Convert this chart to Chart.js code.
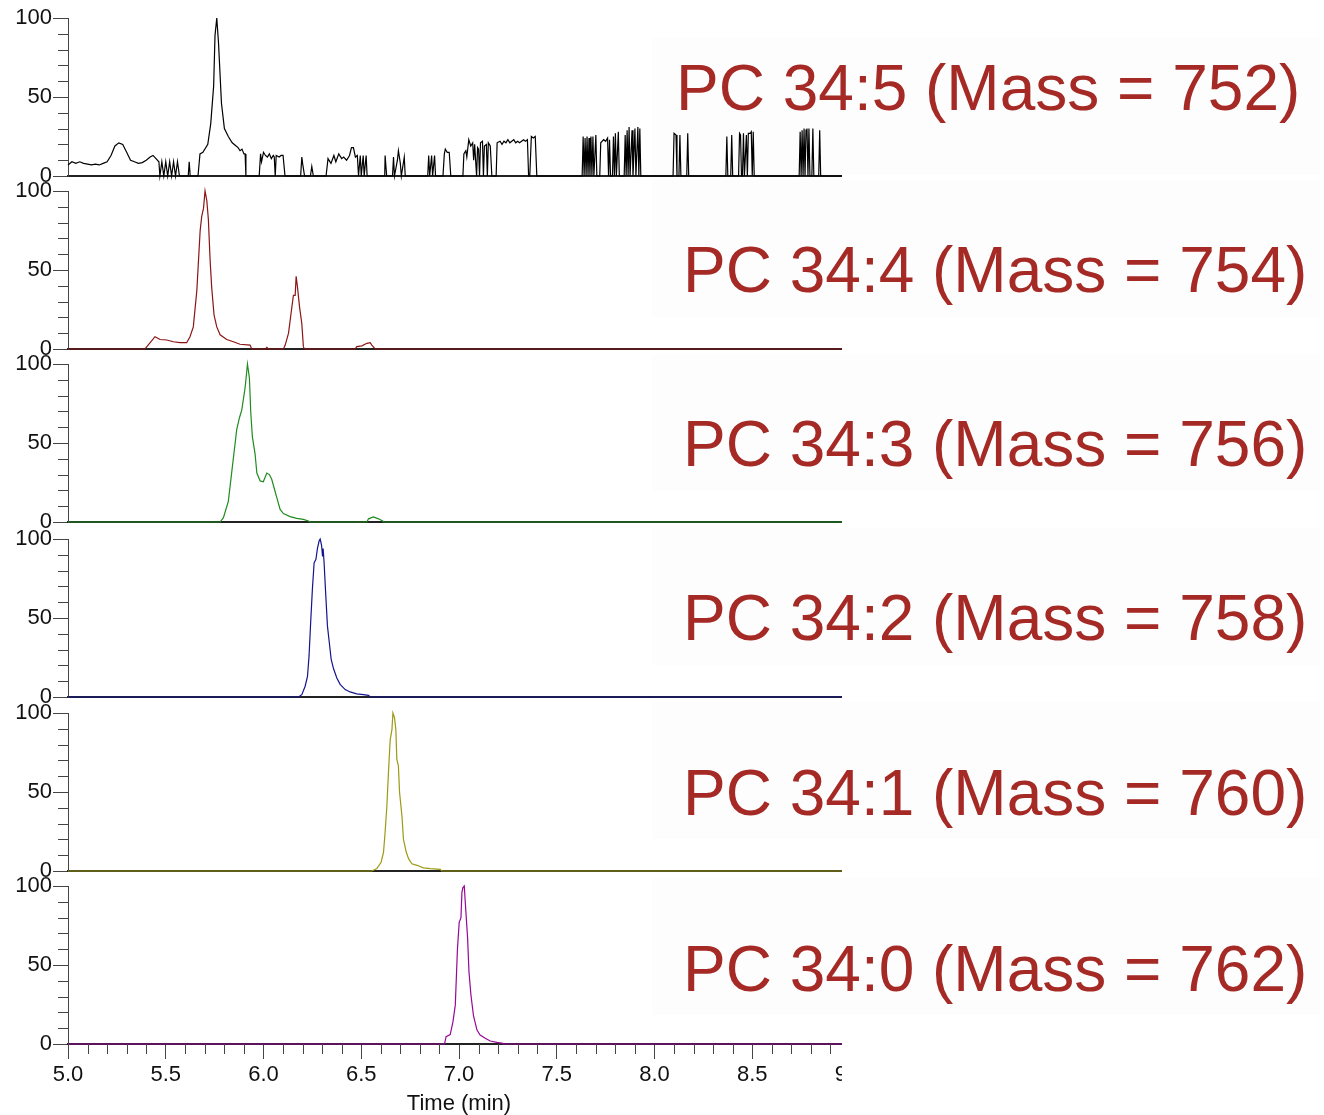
<!DOCTYPE html>
<html>
<head>
<meta charset="utf-8">
<title>PC 34 chromatograms</title>
<script src="https://cdn.jsdelivr.net/npm/chart.js@4.4.1/dist/chart.umd.min.js"></script>
<style>
  html, body { margin: 0; padding: 0; background: #fff; }
  #page { position: relative; width: 1324px; height: 1115px; overflow: hidden; background: #fff; }
  .panel { position: absolute; left: 0; width: 842px; overflow: hidden; }
  .panel canvas { position: absolute; left: 0; top: 0; }
  .tag { position: absolute; left: 652px; width: 668px; height: 137px; background: #fdfdfd; }
  .tag span {
    position: absolute; white-space: nowrap;
    font-family: 'Liberation Sans', Arial, sans-serif;
    font-size: 64px; line-height: 64px; color: #a52a25;
  }
</style>
</head>
<body>
<div id="page"></div>
<script>
(function () {
    'use strict';

    // axis range and tick labels
    var xMin = 5.0;
    var xMax = 9.0;
    var xTickLabels = ['5.0', '5.5', '6.0', '6.5', '7.0', '7.5', '8.0', '8.5', '9.0'];
    var yTickLabels = [0, 50, 100];

    // one trace per species, [time (min), relative intensity (%)]
    var species = ['PC 34:5', 'PC 34:4', 'PC 34:3', 'PC 34:2', 'PC 34:1', 'PC 34:0'];
    var masses = [752, 754, 756, 758, 760, 762];

    var pc345 = [
        [5.00, 7], [5.02, 9], [5.04, 8], [5.06, 9], [5.08, 8], [5.10, 7.5], [5.12, 7], [5.14, 7.5],
        [5.16, 7], [5.18, 8], [5.20, 9], [5.22, 13], [5.24, 19], [5.26, 21], [5.28, 20], [5.30, 15],
        [5.32, 10], [5.34, 9], [5.36, 8], [5.38, 8.5], [5.40, 10], [5.42, 12], [5.435, 13], [5.45, 11],
        [5.465, 9], [5.47, 0], [5.48, 9], [5.49, 0], [5.50, 9], [5.51, 0], [5.52, 9], [5.53, 0],
        [5.54, 9], [5.55, 0], [5.56, 9], [5.57, 0], [5.615, 0], [5.62, 9], [5.625, 0], [5.665, 0],
        [5.675, 14], [5.69, 15], [5.715, 20], [5.73, 33], [5.745, 57], [5.752, 89], [5.761, 100],
        [5.77, 84], [5.785, 46], [5.80, 30], [5.82, 25], [5.84, 21], [5.86, 19], [5.87, 18],
        [5.88, 16], [5.89, 17], [5.90, 14], [5.906, 14], [5.91, 0],
        [5.978, 0], [5.985, 14], [5.99, 9], [6.00, 15], [6.01, 13], [6.02, 12], [6.03, 14], [6.04, 11],
        [6.05, 13], [6.055, 12], [6.06, 0], [6.065, 13], [6.08, 12], [6.09, 13], [6.10, 13], [6.11, 0],
        [6.19, 0], [6.196, 12], [6.20, 8], [6.21, 0], [6.24, 0], [6.247, 6], [6.255, 0],
        [6.32, 0], [6.33, 11], [6.345, 8], [6.36, 13], [6.37, 9], [6.385, 14], [6.40, 11], [6.41, 12],
        [6.425, 10], [6.44, 13], [6.45, 18], [6.46, 18], [6.47, 12], [6.48, 13], [6.486, 0],
        [6.495, 13], [6.50, 0], [6.51, 13], [6.515, 0], [6.525, 13], [6.53, 0],
        [6.62, 0], [6.622, 13], [6.63, 0], [6.66, 0], [6.665, 12], [6.67, 0], [6.685, 10], [6.69, 16],
        [6.70, 8], [6.705, 0], [6.72, 12], [6.725, 0],
        [6.84, 0], [6.845, 13], [6.85, 0], [6.86, 13], [6.865, 0], [6.875, 13], [6.88, 0],
        [6.918, 0], [6.925, 14], [6.93, 17], [6.94, 15], [6.95, 15], [6.958, 0],
        [7.02, 0], [7.025, 14], [7.035, 16], [7.04, 12], [7.05, 23], [7.06, 19], [7.07, 21], [7.075, 10],
        [7.08, 20], [7.09, 0], [7.095, 18], [7.10, 17], [7.105, 0], [7.11, 21], [7.12, 22], [7.125, 0],
        [7.13, 19], [7.14, 20], [7.145, 0], [7.15, 21], [7.16, 19], [7.168, 0],
        [7.19, 0], [7.195, 21], [7.21, 22], [7.22, 20], [7.23, 22], [7.24, 21], [7.25, 23], [7.26, 21],
        [7.27, 22], [7.28, 23], [7.29, 21], [7.30, 22], [7.31, 21], [7.32, 22], [7.33, 23], [7.34, 22],
        [7.35, 23], [7.356, 0], [7.362, 0], [7.37, 25], [7.38, 24], [7.39, 25], [7.398, 0],
        [7.63, 0], [7.635, 25], [7.64, 0], [7.645, 24], [7.65, 0], [7.655, 25], [7.66, 0], [7.665, 24],
        [7.67, 0], [7.675, 25], [7.68, 0], [7.685, 25], [7.69, 0], [7.70, 26], [7.705, 0],
        [7.72, 0], [7.725, 21], [7.74, 23], [7.75, 22], [7.76, 24], [7.765, 0], [7.77, 23], [7.775, 0],
        [7.785, 0], [7.79, 25], [7.795, 0], [7.80, 27], [7.805, 0], [7.815, 28], [7.82, 0],
        [7.845, 0], [7.85, 26], [7.855, 0], [7.86, 29], [7.865, 0], [7.87, 31], [7.875, 0], [7.885, 29],
        [7.89, 0], [7.90, 30], [7.905, 0], [7.915, 31], [7.92, 0], [7.925, 30], [7.93, 0],
        [8.095, 0], [8.10, 27], [8.11, 26], [8.115, 0], [8.125, 0], [8.13, 26], [8.135, 0], [8.165, 0],
        [8.17, 27], [8.175, 0],
        [8.365, 0], [8.37, 25], [8.375, 0], [8.39, 0], [8.395, 26], [8.40, 0], [8.43, 0], [8.435, 27],
        [8.44, 26], [8.445, 0], [8.45, 0], [8.455, 27], [8.46, 0], [8.47, 26], [8.475, 0], [8.48, 27],
        [8.49, 27], [8.495, 28], [8.50, 0], [8.505, 28], [8.51, 0],
        [8.74, 0], [8.745, 28], [8.75, 0], [8.755, 29], [8.76, 0], [8.765, 30], [8.77, 0], [8.775, 29],
        [8.78, 30], [8.785, 0], [8.79, 30], [8.795, 0], [8.805, 0], [8.81, 30], [8.815, 0], [8.84, 0],
        [8.845, 29], [8.85, 0], [9.00, 0]
    ];

    var pc344 = [
        [5.00, 0], [5.394, 0], [5.445, 7.8], [5.471, 6], [5.505, 5.7], [5.539, 4.6], [5.573, 4],
        [5.607, 4], [5.624, 7.8], [5.641, 14], [5.659, 37], [5.676, 75], [5.684, 84], [5.693, 89],
        [5.701, 100], [5.710, 94], [5.718, 82], [5.727, 56], [5.735, 39], [5.747, 21.5], [5.761, 14],
        [5.778, 9], [5.812, 6], [5.846, 4.6], [5.880, 3], [5.931, 2.5], [5.940, 0], [6.010, 0],
        [6.017, 1], [6.025, 0], [6.102, 0], [6.111, 2.5], [6.128, 10], [6.141, 22.6], [6.153, 34],
        [6.162, 34], [6.167, 46], [6.174, 39], [6.184, 27], [6.196, 16], [6.204, 1.5], [6.209, 0],
        [6.469, 0], [6.477, 1.5], [6.503, 2], [6.529, 3.6], [6.546, 4], [6.554, 2.5], [6.571, 0],
        [9.00, 0]
    ];

    var pc343 = [
        [5.00, 0], [5.778, 0], [5.795, 2.7], [5.820, 13], [5.838, 32], [5.855, 50], [5.863, 58.5],
        [5.877, 66], [5.889, 71], [5.906, 85], [5.918, 100], [5.928, 91], [5.935, 69], [5.943, 54],
        [5.957, 43], [5.966, 31], [5.983, 26], [5.999, 25.5], [6.017, 31], [6.030, 30], [6.042, 27],
        [6.054, 21.7], [6.068, 15.4], [6.085, 8], [6.102, 5.3], [6.136, 3.4], [6.170, 2.3],
        [6.204, 1.7], [6.230, 0.6], [6.238, 0], [6.529, 0], [6.537, 2], [6.562, 3.2], [6.588, 2],
        [6.610, 0.6], [6.614, 0], [9.00, 0]
    ];

    var pc342 = [
        [5.00, 0], [6.179, 0], [6.196, 1.5], [6.213, 6.8], [6.225, 13], [6.233, 26], [6.242, 49],
        [6.250, 68], [6.259, 85], [6.268, 87], [6.276, 94], [6.285, 99], [6.290, 100], [6.297, 96],
        [6.302, 89], [6.305, 94], [6.310, 85], [6.317, 68], [6.327, 45], [6.337, 34], [6.346, 24],
        [6.358, 18], [6.375, 12], [6.392, 8], [6.418, 4.7], [6.443, 3.2], [6.477, 2], [6.511, 1.5],
        [6.537, 1], [6.546, 0], [9.00, 0]
    ];

    var pc341 = [
        [5.00, 0], [6.554, 0], [6.580, 1.5], [6.602, 5.7], [6.614, 12], [6.622, 24.5], [6.631, 41],
        [6.639, 62], [6.648, 83], [6.657, 89.5], [6.662, 100], [6.670, 97], [6.677, 89.5],
        [6.682, 70.6], [6.690, 66.5], [6.696, 49.7], [6.708, 35], [6.716, 20], [6.730, 12],
        [6.742, 7.8], [6.759, 4.6], [6.785, 3.6], [6.818, 2], [6.853, 1.5], [6.904, 1], [6.912, 0],
        [9.00, 0]
    ];

    var pc340 = [
        [5.00, 0], [6.926, 0], [6.934, 4.6], [6.955, 6], [6.969, 14], [6.981, 24.6], [6.992, 60],
        [7.001, 77], [7.010, 80], [7.015, 96], [7.020, 99], [7.027, 100], [7.033, 88], [7.044, 67],
        [7.051, 45.7], [7.061, 31], [7.074, 18], [7.092, 8.8], [7.108, 5.7], [7.134, 3.6],
        [7.160, 1.9], [7.194, 1], [7.225, 0.4], [7.231, 0], [9.00, 0]
    ];

    var traces = [pc345, pc344, pc343, pc342, pc341, pc340];

    // look
    var lineColors = ['#000000', '#8b1414', '#1e8c1e', '#14148c', '#9c9a14', '#960896'];
    var plotTops = [18, 191, 364, 539, 713, 886];
    var plotHeight = 158;
    var padTop = 15;
    var tagTops = [38, 180, 354, 528, 702, 878];
    var tagText = [[24, 18], [31, 58], [31, 58], [31, 58], [31, 59], [31, 59]];

    Chart.defaults.font.family = "'Liberation Sans', Arial, sans-serif";
    Chart.defaults.font.size = 22;
    Chart.defaults.color = '#111';

    function isMajorX(v) { return xTickLabels.indexOf(v.toFixed(1)) >= 0 && Math.abs(v * 10 - Math.round(v * 10)) < 1e-6; }
    function isMajorY(v) { return yTickLabels.indexOf(Math.round(v)) >= 0; }

    // shorter unlabelled ticks between the labelled ones
    var minorTicks = {
        id: 'minorTicks',
        afterDraw: function (chart, args, opts) {
            var ctx = chart.ctx;
            ctx.save();
            ctx.strokeStyle = opts.color;
            ctx.lineWidth = 1;
            ctx.beginPath();
            var ys = chart.scales.y;
            ys.ticks.forEach(function (t) {
                if (isMajorY(t.value)) return;
                var py = Math.round(ys.getPixelForValue(t.value)) + 0.5;
                ctx.moveTo(ys.right - opts.len, py);
                ctx.lineTo(ys.right, py);
            });
            if (opts.x) {
                var xs = chart.scales.x;
                xs.ticks.forEach(function (t) {
                    if (isMajorX(t.value)) return;
                    var px = Math.round(xs.getPixelForValue(t.value)) + 0.5;
                    ctx.moveTo(px, xs.top);
                    ctx.lineTo(px, xs.top + opts.len);
                });
            }
            ctx.stroke();
            ctx.restore();
        }
    };

    var page = document.getElementById('page');

    // labels sit behind the traces
    species.forEach(function (name, i) {
        var tag = document.createElement('div');
        tag.className = 'tag';
        tag.style.top = tagTops[i] + 'px';
        var span = document.createElement('span');
        span.style.left = tagText[i][0] + 'px';
        span.style.top = tagText[i][1] + 'px';
        span.textContent = name + ' (Mass = ' + masses[i] + ')';
        tag.appendChild(span);
        page.appendChild(tag);
    });

    traces.forEach(function (trace, i) {
        var last = i === traces.length - 1;
        var axisH = last ? 73 : 0;
        var h = padTop + plotHeight + (last ? axisH : padTop);

        var box = document.createElement('div');
        box.className = 'panel';
        box.style.top = (plotTops[i] - padTop) + 'px';
        box.style.height = h + 'px';
        var canvas = document.createElement('canvas');
        canvas.width = 880;
        canvas.height = h;
        canvas.style.width = '880px';
        canvas.style.height = h + 'px';
        box.appendChild(canvas);
        page.appendChild(box);

        new Chart(canvas.getContext('2d'), {
            type: 'line',
            data: {
                datasets: [{
                    data: trace.map(function (p) { return { x: p[0], y: p[1] }; }),
                    borderColor: lineColors[i],
                    borderWidth: 1.2,
                    pointRadius: 0,
                    tension: 0,
                    fill: false,
                    clip: false
                }]
            },
            options: {
                responsive: false,
                animation: false,
                devicePixelRatio: 1,
                events: [],
                layout: { padding: { top: padTop, right: 30, bottom: last ? 0 : padTop, left: 0 } },
                plugins: {
                    legend: { display: false },
                    tooltip: { enabled: false },
                    minorTicks: { color: '#444', len: 10, x: last }
                },
                scales: {
                    x: {
                        type: 'linear',
                        min: xMin,
                        max: xMax,
                        afterFit: function (s) { s.height = axisH; },
                        border: { display: true, color: '#222', width: 2 },
                        grid: {
                            drawOnChartArea: false,
                            drawTicks: last,
                            tickLength: 15,
                            tickColor: function (c) { return c.tick && isMajorX(c.tick.value) ? '#444' : 'rgba(0,0,0,0)'; }
                        },
                        ticks: {
                            display: last,
                            stepSize: 0.1,
                            autoSkip: false,
                            maxRotation: 0,
                            padding: 3,
                            callback: function (v) { return isMajorX(v) ? v.toFixed(1) : ''; }
                        },
                        title: {
                            display: last,
                            text: 'Time (min)',
                            padding: { top: 0, bottom: 0 }
                        }
                    },
                    y: {
                        min: 0,
                        max: 100,
                        afterFit: function (s) { s.width = 68; },
                        border: { display: true, color: '#444', width: 1 },
                        grid: {
                            drawOnChartArea: false,
                            tickLength: 15,
                            tickColor: function (c) { return c.tick && isMajorY(c.tick.value) ? '#444' : 'rgba(0,0,0,0)'; }
                        },
                        ticks: {
                            stepSize: 10,
                            autoSkip: false,
                            padding: 1,
                            callback: function (v) { return isMajorY(v) ? String(v) : ''; }
                        }
                    }
                }
            },
            plugins: [minorTicks]
        });
    });
})();
</script>
</body>
</html>
